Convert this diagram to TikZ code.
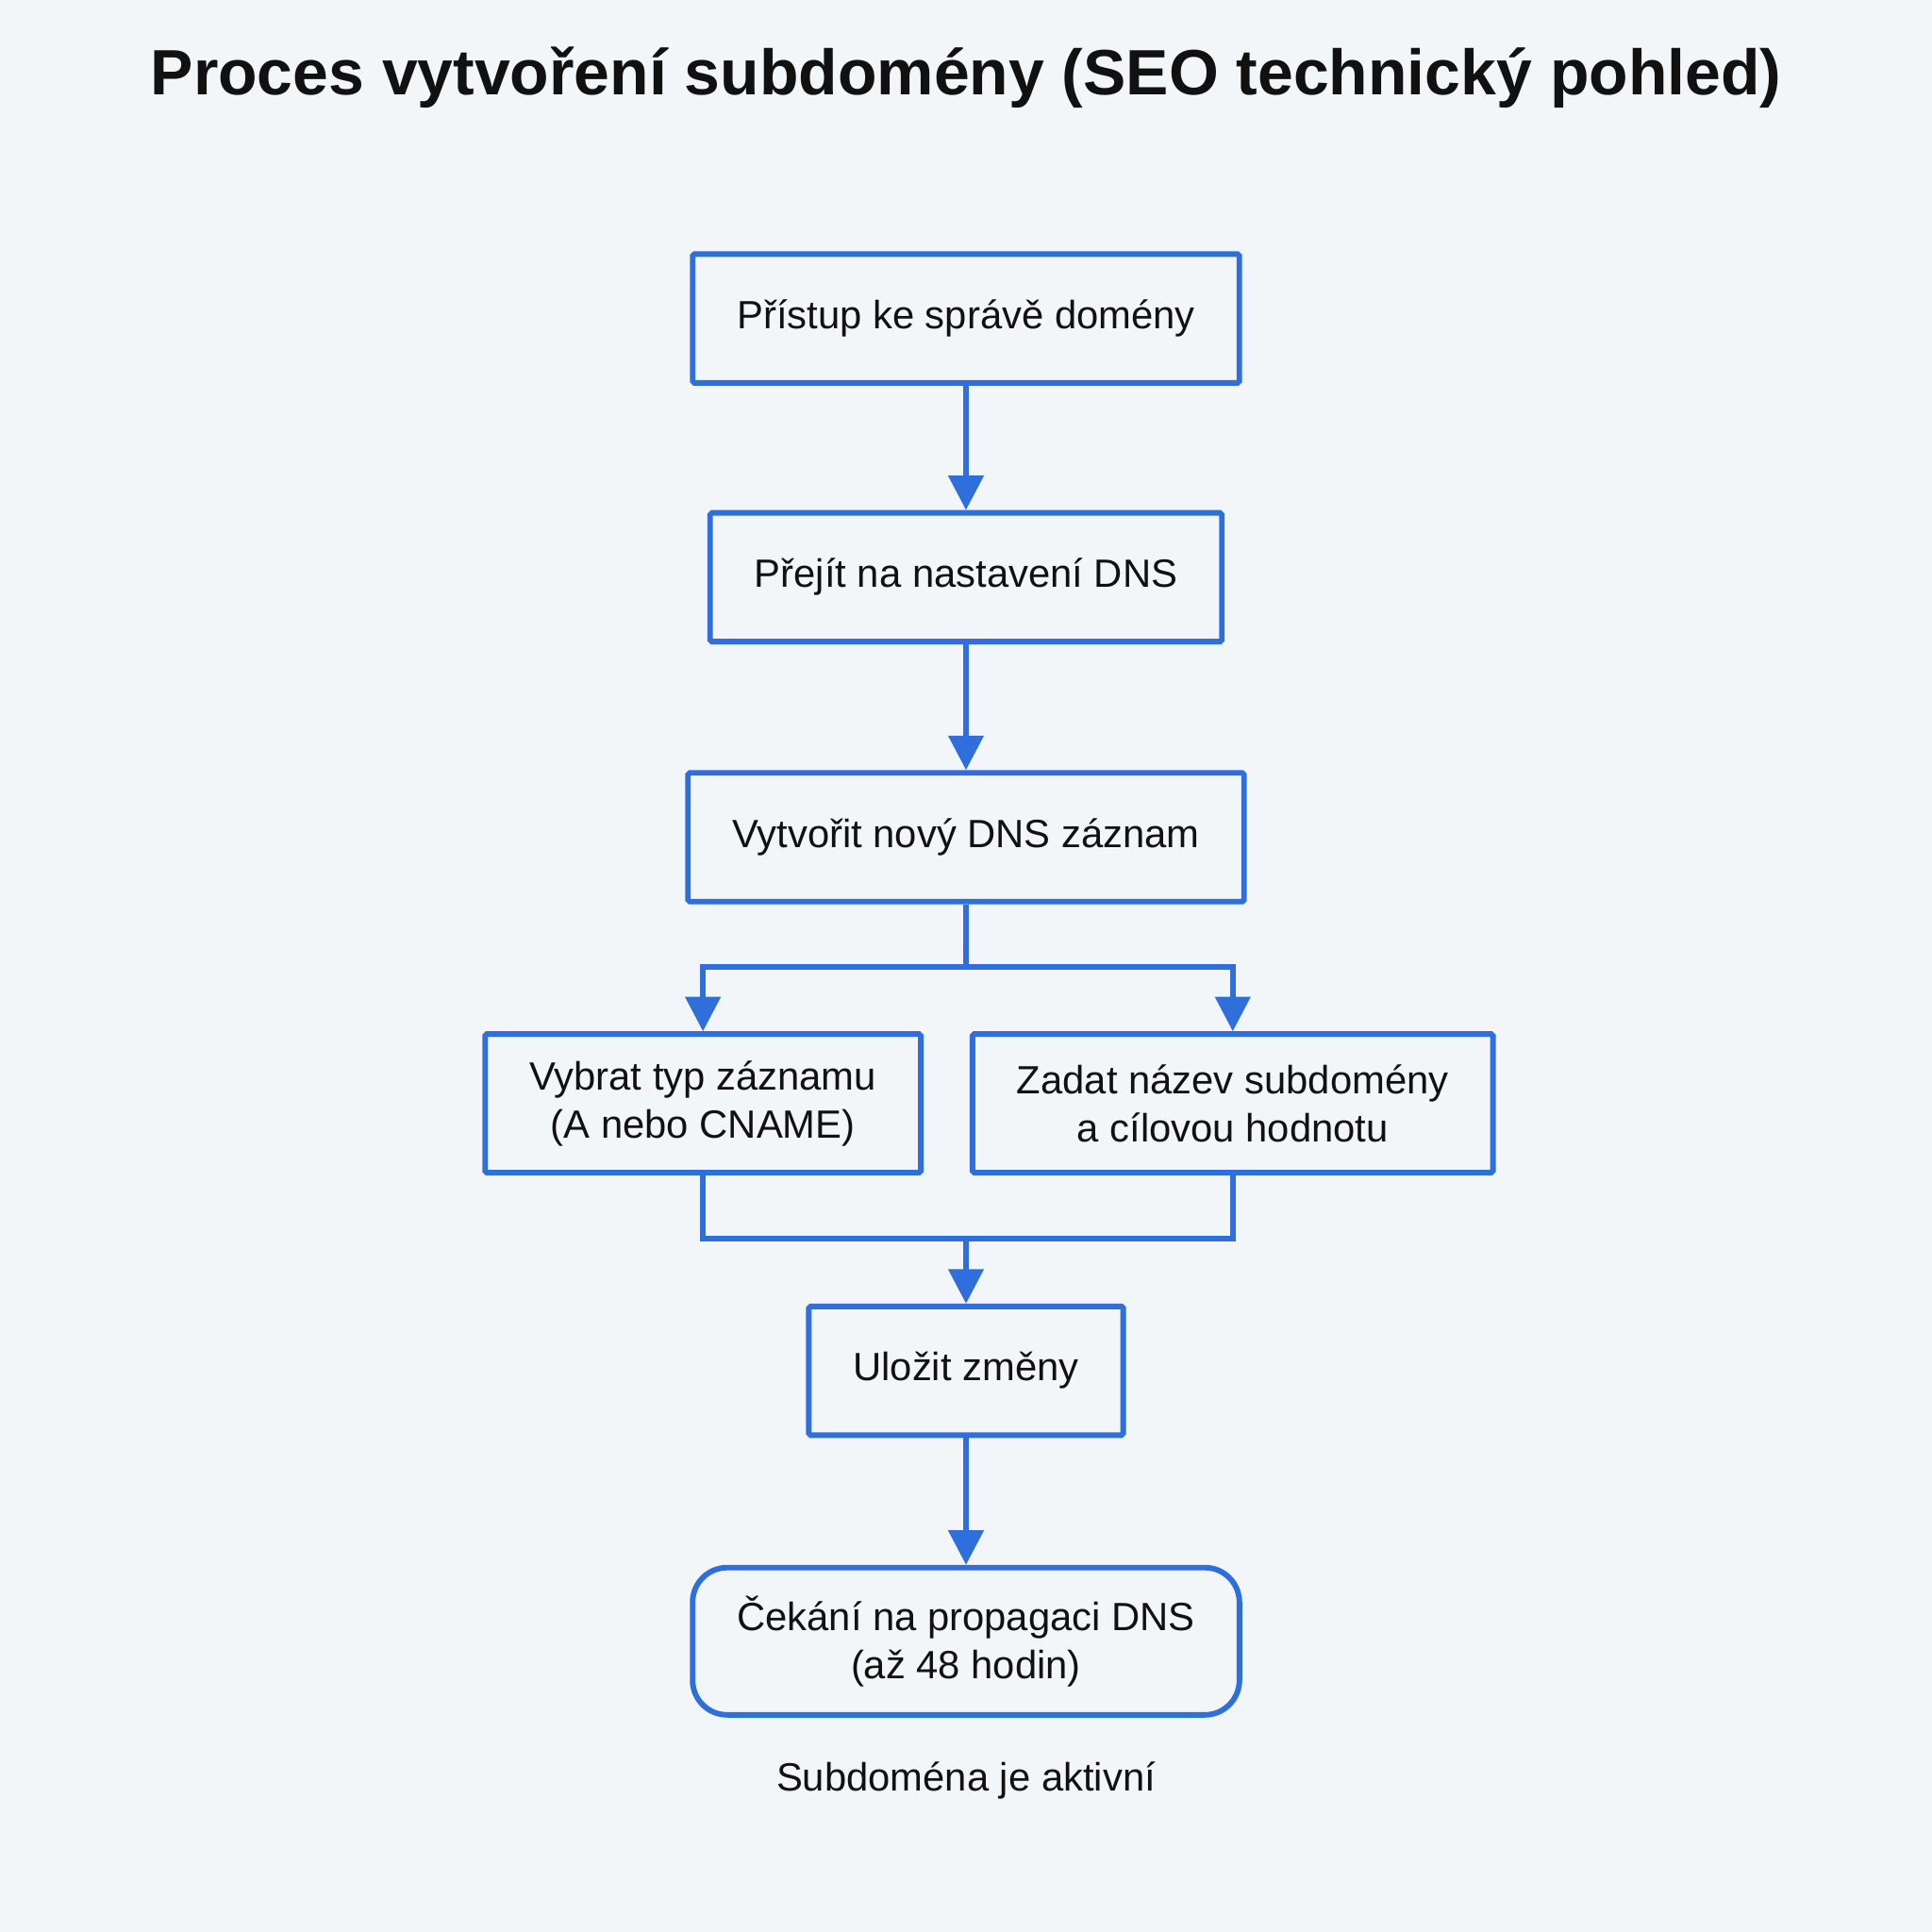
\documentclass[tikz,border=0pt]{standalone}
\usepackage{fontspec}
\setmainfont{Liberation Sans}
\usetikzlibrary{arrows.meta}

\definecolor{sdblue}{HTML}{2E6FDB}
\definecolor{sdink}{HTML}{111111}
\definecolor{sdpaper}{HTML}{F2F6F8}

\begin{document}
\begin{tikzpicture}[
  x=1pt, y=-1pt,
  font=\fontsize{32}{39}\selectfont,
  stepbox/.style={draw=sdblue, line width=4.5pt, rounded corners=1.5pt,
    text=sdink, align=center, inner xsep=36pt, minimum height=104.5pt},
  flow/.style={draw=sdblue, line width=4.5pt},
  flowarrow/.style={flow, -{Triangle[length=28pt, width=28pt]}},
]
\fill[sdpaper] (0,0) rectangle (1568,1568);
\useasboundingbox (0,0) rectangle (1568,1568);

\node[font=\fontsize{52}{60}\selectfont\bfseries, text=sdink]
  (title) at (784,63) {Proces vytvoření subdomény (SEO technický pohled)};

% steps
\node[stepbox] (access) at (784,258.5) {Přístup ke správě domény};
\node[stepbox] (dns) at (784,468.5) {Přejít na nastavení DNS};
\node[stepbox] (record) at (784,679.5) {Vytvořit nový DNS záznam};
\node[stepbox, minimum height=112.5pt] (type) at (570.5,895.5)
  {Vybrat typ záznamu\\(A nebo CNAME)};
\node[stepbox, minimum height=112.5pt] (name) at (1000.5,895.5)
  {Zadat název subdomény\\a cílovou hodnotu};
\node[stepbox] (save) at (784,1112.5) {Uložit změny};
\node[stepbox, minimum height=119.5pt, rounded corners=28pt] (wait) at (784,1332)
  {Čekání na propagaci DNS\\(až 48 hodin)};
\node[text=sdink] (active) at (784,1445) {Subdoména je aktivní};

\coordinate (split) at (784,785);
\coordinate (join) at (784,1005);

% connectors
\draw[flowarrow] (access) -- (dns);
\draw[flowarrow] (dns) -- (record);
\draw[flow] (record) -- (split);
\draw[flowarrow] (split) -| (type.north);
\draw[flowarrow] (split) -| (name.north);
\draw[flow] (type.south) |- (join);
\draw[flow] (name.south) |- (join);
\draw[flowarrow] (join) -- (save);
\draw[flowarrow] (save) -- (wait);

\end{tikzpicture}
\end{document}
